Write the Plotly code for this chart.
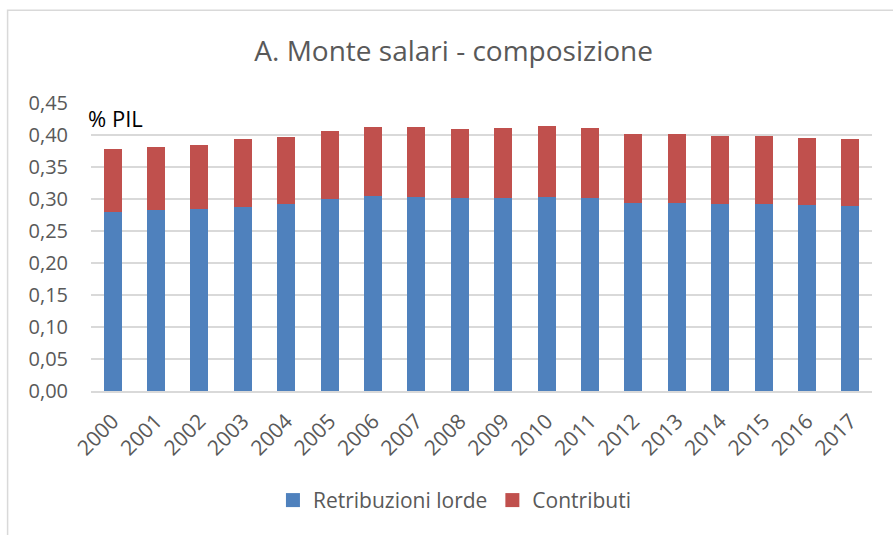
import plotly.graph_objects as go

years = [str(y) for y in range(2000, 2018)]
retribuzioni = [0.280, 0.283, 0.284, 0.287, 0.292, 0.300, 0.305, 0.303, 0.302, 0.302,
                0.303, 0.302, 0.293, 0.293, 0.292, 0.292, 0.290, 0.289]
totale = [0.378, 0.381, 0.384, 0.393, 0.397, 0.407, 0.412, 0.412, 0.409, 0.411,
          0.414, 0.411, 0.401, 0.401, 0.398, 0.398, 0.395, 0.393]
contributi = [round(t - r, 3) for t, r in zip(totale, retribuzioni)]

names = ["Retribuzioni lorde", "Contributi"]
colors = ["#4F81BD", "#C0504D"]

FONT = "Open Sans"
GRAY = "#595959"

fig = go.Figure()
for vals, name, col in zip([retribuzioni, contributi], names, colors):
    fig.add_trace(go.Bar(x=years, y=vals, name=name, showlegend=False,
                         marker=dict(color=col, line=dict(width=0)), width=0.415))
# legend entries with square markers
for name, col in zip(names, colors):
    fig.add_trace(go.Scatter(x=[None], y=[None], mode="markers", name=name,
                             marker=dict(symbol="square", size=14, color=col)))

fig.update_layout(
    barmode="stack",
    width=893, height=535,
    margin=dict(l=91.3, r=21.4, t=102.7, b=144.3),
    paper_bgcolor="white", plot_bgcolor="white",
    separators=",.",
    font=dict(family=FONT, color=GRAY, size=20),
    title=dict(text="A. Monte salari - composizione", x=0.508, xanchor="center",
               y=1 - 51 / 535, yanchor="middle", yref="container",
               font=dict(family=FONT, size=28, color=GRAY)),
    legend=dict(orientation="h", x=0.466, xanchor="center", y=-0.38, yanchor="middle",
                font=dict(family=FONT, size=21, color=GRAY),
                traceorder="normal", itemwidth=30),
    showlegend=True,
    xaxis=dict(type="category", tickangle=-45, showgrid=False, showline=True,
               linecolor="#d9d9d9", linewidth=1.5, ticks="", ticklabelstandoff=8,
               tickfont=dict(family=FONT, size=21, color=GRAY)),
    yaxis=dict(range=[0, 0.45], dtick=0.05, tickformat=".2f", showgrid=True,
               gridcolor="#d9d9d9", gridwidth=1.5, zeroline=False, showline=False,
               ticks="", ticklabelstandoff=22,
               tickfont=dict(family=FONT, size=20, color=GRAY)),
    annotations=[dict(text="% PIL", xref="paper", yref="paper", x=-0.006, y=0.947,
                      xanchor="left", yanchor="middle", showarrow=False,
                      font=dict(family=FONT, size=22, color="black"))],
    shapes=[dict(type="rect", xref="paper", yref="paper", x0=-0.1068, x1=1.2,
                 y0=-0.8, y1=1.3219, line=dict(color="#d9d9d9", width=1.5),
                 fillcolor="rgba(0,0,0,0)", layer="below")],
)

fig.write_html("out.html", config={"displayModeBar": False},
               post_script="document.body.style.margin='0';")
